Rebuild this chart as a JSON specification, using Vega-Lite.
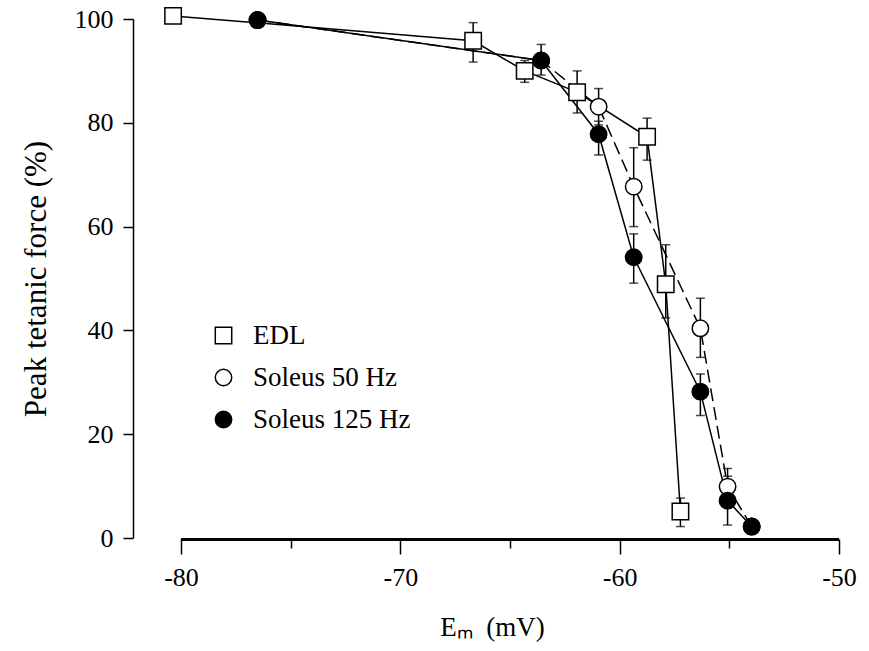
{
  "$schema": "https://vega.github.io/schema/vega-lite/v6.json",
  "width": 658,
  "height": 519,
  "autosize": "none",
  "padding": {"left": 181, "top": 19, "right": 30, "bottom": 113},
  "background": "white",
  "config": {
    "view": {"stroke": null},
    "font": "Liberation Serif",
    "axis": {
      "domainColor": "black", "domainWidth": 1.5,
      "tickColor": "black", "tickWidth": 1.5,
      "labelColor": "black", "labelFont": "Liberation Serif", "labelFontSize": 26,
      "titleColor": "black", "titleFont": "Liberation Serif", "titleFontWeight": "normal",
      "grid": false, "labelFlush": false
    }
  },
  "data": {
    "values": [
      {"s": "EDL", "x": -80.36, "y": 100.6, "lo": null, "hi": null},
      {"s": "EDL", "x": -66.68, "y": 95.8, "lo": 91.7, "hi": 99.3},
      {"s": "EDL", "x": -64.33, "y": 90.0, "lo": 87.8, "hi": 92.0},
      {"s": "EDL", "x": -61.94, "y": 85.9, "lo": 81.9, "hi": 90.0},
      {"s": "EDL", "x": -58.75, "y": 77.3, "lo": 72.8, "hi": 80.9},
      {"s": "EDL", "x": -57.90, "y": 48.9, "lo": 42.4, "hi": 56.5},
      {"s": "EDL", "x": -57.23, "y": 5.1, "lo": 2.2, "hi": 7.7},
      {"s": "Soleus 50 Hz", "x": -76.51, "y": 99.8, "lo": null, "hi": null},
      {"s": "Soleus 50 Hz", "x": -63.58, "y": 92.0, "lo": null, "hi": null},
      {"s": "Soleus 50 Hz", "x": -60.96, "y": 83.1, "lo": 79.6, "hi": 86.6},
      {"s": "Soleus 50 Hz", "x": -59.36, "y": 67.7, "lo": 60.0, "hi": 75.2},
      {"s": "Soleus 50 Hz", "x": -56.32, "y": 40.4, "lo": 34.8, "hi": 46.2},
      {"s": "Soleus 50 Hz", "x": -55.08, "y": 9.9, "lo": 6.4, "hi": 13.4},
      {"s": "Soleus 50 Hz", "x": -53.98, "y": 2.2, "lo": null, "hi": null},
      {"s": "Soleus 125 Hz", "x": -76.51, "y": 99.8, "lo": null, "hi": null},
      {"s": "Soleus 125 Hz", "x": -63.58, "y": 92.0, "lo": 89.2, "hi": 95.1},
      {"s": "Soleus 125 Hz", "x": -60.96, "y": 77.8, "lo": 73.8, "hi": 80.3},
      {"s": "Soleus 125 Hz", "x": -59.36, "y": 54.1, "lo": 49.1, "hi": 58.6},
      {"s": "Soleus 125 Hz", "x": -56.32, "y": 28.2, "lo": 23.6, "hi": 31.6},
      {"s": "Soleus 125 Hz", "x": -55.08, "y": 7.2, "lo": 2.5, "hi": 11.9},
      {"s": "Soleus 125 Hz", "x": -53.98, "y": 2.2, "lo": null, "hi": null}
    ]
  },
  "encoding": {
    "x": {
      "field": "x", "type": "quantitative",
      "scale": {"domain": [-80, -50], "nice": false, "zero": false},
      "axis": {
        "values": [-80, -75, -70, -65, -60, -55, -50],
        "labelExpr": "datum.value % 10 === 0 ? '' + datum.value : ''",
        "tickSize": {"condition": {"test": "datum.value % 10 === 0", "value": 15}, "value": 9},
        "labelPadding": 10,
        "offset": 1,
        "domain": false,
        "title": "Eₘ\u00a0\u00a0(mV)",
        "titleFontSize": 27,
        "titleX": 311,
        "titleY": 96,
        "titleBaseline": "alphabetic"
      }
    },
    "y": {
      "field": "y", "type": "quantitative",
      "scale": {"domain": [0, 100], "nice": false},
      "axis": {
        "values": [0, 20, 40, 60, 80, 100],
        "tickSize": 10,
        "labelPadding": 10,
        "offset": 48,
        "title": "Peak tetanic force (%)",
        "titleFontSize": 31,
        "titlePadding": 22
      }
    }
  },
  "layer": [
    {
      "mark": {"type": "rule", "color": "black", "strokeWidth": 1.5, "yOffset": 1.5},
      "encoding": {
        "x": {"datum": -80, "type": "quantitative"},
        "x2": {"datum": -50},
        "y": {"datum": 0, "type": "quantitative"}
      }
    },
    {
      "transform": [{"filter": "datum.s !== 'Soleus 50 Hz'"}],
      "mark": {"type": "line", "color": "black", "strokeWidth": 1.5},
      "encoding": {"detail": {"field": "s"}}
    },
    {
      "transform": [{"filter": "datum.s === 'Soleus 50 Hz'"}],
      "mark": {"type": "line", "color": "black", "strokeWidth": 1.5, "strokeDash": [13, 6]},
      "encoding": {}
    },
    {
      "transform": [{"filter": "datum.lo != null"}],
      "mark": {"type": "rule", "color": "black", "strokeWidth": 1.5},
      "encoding": {"y": {"field": "lo", "type": "quantitative"}, "y2": {"field": "hi"}}
    },
    {
      "transform": [{"filter": "datum.lo != null"}],
      "mark": {"type": "tick", "orient": "horizontal", "color": "black", "size": 9, "thickness": 1.5},
      "encoding": {"y": {"field": "lo", "type": "quantitative"}}
    },
    {
      "transform": [{"filter": "datum.lo != null"}],
      "mark": {"type": "tick", "orient": "horizontal", "color": "black", "size": 9, "thickness": 1.5},
      "encoding": {"y": {"field": "hi", "type": "quantitative"}}
    },
    {
      "mark": {"type": "point", "filled": true, "strokeWidth": 1.5, "size": 270, "opacity": 1},
      "encoding": {
        "shape": {
          "field": "s", "type": "nominal",
          "scale": {"domain": ["EDL", "Soleus 50 Hz", "Soleus 125 Hz"], "range": ["square", "circle", "circle"]},
          "legend": {
            "orient": "none", "legendX": 29, "legendY": 303, "title": null, "padding": 0,
            "labelFont": "Liberation Serif", "labelFontSize": 27, "labelColor": "black", "labelOffset": 16,
            "symbolSize": 270, "symbolStrokeWidth": 1.5, "rowPadding": 14
          }
        },
        "fill": {
          "field": "s", "type": "nominal",
          "scale": {"domain": ["EDL", "Soleus 50 Hz", "Soleus 125 Hz"], "range": ["white", "white", "black"]},
          "legend": {
            "orient": "none", "legendX": 29, "legendY": 303, "title": null, "padding": 0,
            "labelFont": "Liberation Serif", "labelFontSize": 27, "labelColor": "black", "labelOffset": 16,
            "symbolSize": 270, "symbolStrokeWidth": 1.5, "rowPadding": 14
          }
        },
        "stroke": {
          "field": "s", "type": "nominal",
          "scale": {"domain": ["EDL", "Soleus 50 Hz", "Soleus 125 Hz"], "range": ["black", "black", "black"]},
          "legend": {
            "orient": "none", "legendX": 29, "legendY": 303, "title": null, "padding": 0,
            "labelFont": "Liberation Serif", "labelFontSize": 27, "labelColor": "black", "labelOffset": 16,
            "symbolSize": 270, "symbolStrokeWidth": 1.5, "rowPadding": 14
          }
        }
      }
    }
  ]
}
